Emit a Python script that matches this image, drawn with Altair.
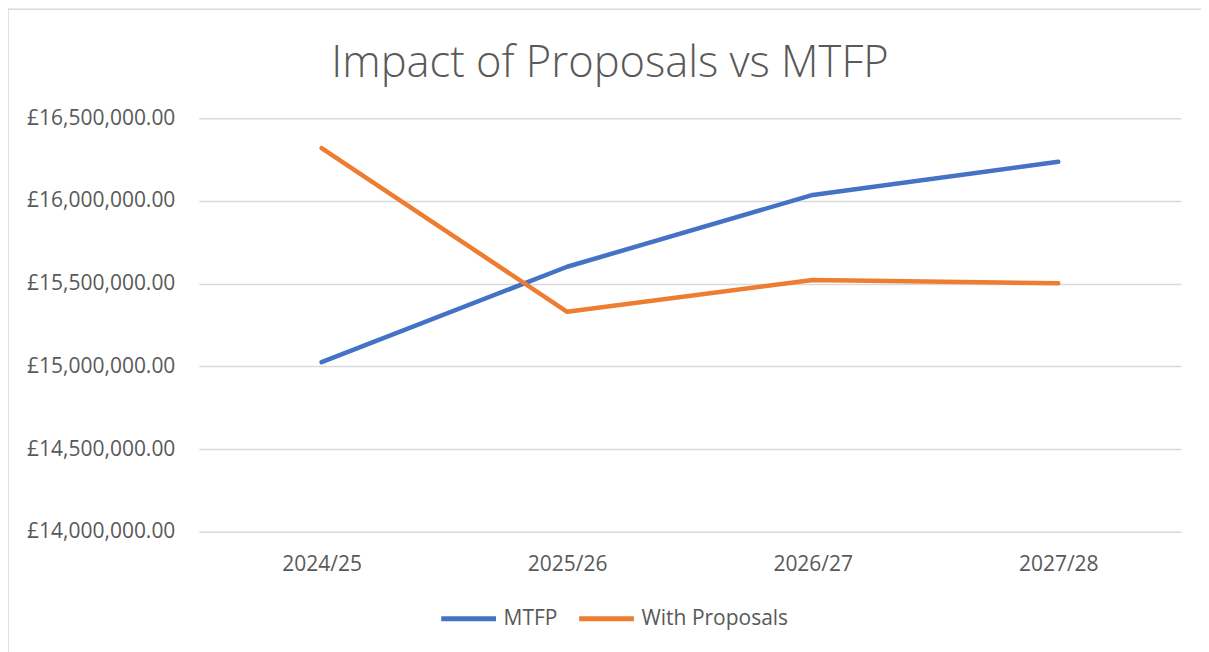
import altair as alt
import pandas as pd

years = ["2024/25", "2025/26", "2026/27", "2027/28"]
mtfp = [15026000, 15602000, 16036000, 16237000]
with_proposals = [16319000, 15330000, 15522000, 15502000]
series_names = ["MTFP", "With Proposals"]
series_colors = ["#4472C4", "#ED7D31"]
y_ticks = [14000000, 14500000, 15000000, 15500000, 16000000, 16500000]

rows = []
for i, yr in enumerate(years):
    rows.append({"year": yr, "series": series_names[0], "value": mtfp[i]})
    rows.append({"year": yr, "series": series_names[1], "value": with_proposals[i]})
df = pd.DataFrame(rows)

FONT = "Open Sans"
TXT = "#595959"

lines = alt.Chart(df).mark_line(strokeWidth=4.5, strokeCap="round", strokeJoin="round").encode(
    x=alt.X("year:N", sort=years,
            scale=alt.Scale(type="point", padding=0.5),
            axis=alt.Axis(title=None, labelAngle=0, ticks=False, domain=False, grid=False,
                          labelPadding=22, labelFontSize=21, labelColor=TXT, labelFont=FONT)),
    y=alt.Y("value:Q", scale=alt.Scale(domain=[14000000, 16500000], nice=False, zero=False),
            axis=alt.Axis(title=None, values=y_ticks, ticks=False, domain=False,
                          labelExpr="'£' + format(datum.value, ',.2f')",
                          labelPadding=24, labelFontSize=21, labelColor=TXT, labelFont=FONT,
                          gridColor="#d9d9d9", gridWidth=1.5)),
    color=alt.Color("series:N", sort=series_names,
                    scale=alt.Scale(domain=series_names, range=series_colors),
                    legend=alt.Legend(title=None, orient="none", direction="horizontal",
                                      legendX=240, legendY=471,
                                      symbolType="stroke", symbolSize=3000, symbolStrokeWidth=5,
                                      labelFontSize=21, labelColor=TXT, labelFont=FONT,
                                      labelOffset=5, columnPadding=11)),
)

frame_df = pd.DataFrame({"k": [0]})
frame = alt.Chart(frame_df).mark_rect(fill=None, stroke="#d9d9d9", strokeWidth=1.5).encode(
    x=alt.value(-191), x2=alt.value(1250), y=alt.value(-109), y2=alt.value(700)
)

chart = alt.layer(lines, frame).properties(
    width=983, height=414,
    autosize=alt.AutoSizeParams(type="none"),
    padding={"left": 191, "top": 110, "right": 20, "bottom": 120},
    title=alt.Title("Impact of Proposals vs MTFP", fontSize=43.5, font=FONT, fontWeight=300,
                    color=TXT, anchor="middle", offset=-78, dx=-80, frame="group"),
).configure_view(stroke=None)

chart.save("out.html", embed_options={"renderer": "svg", "actions": False})
